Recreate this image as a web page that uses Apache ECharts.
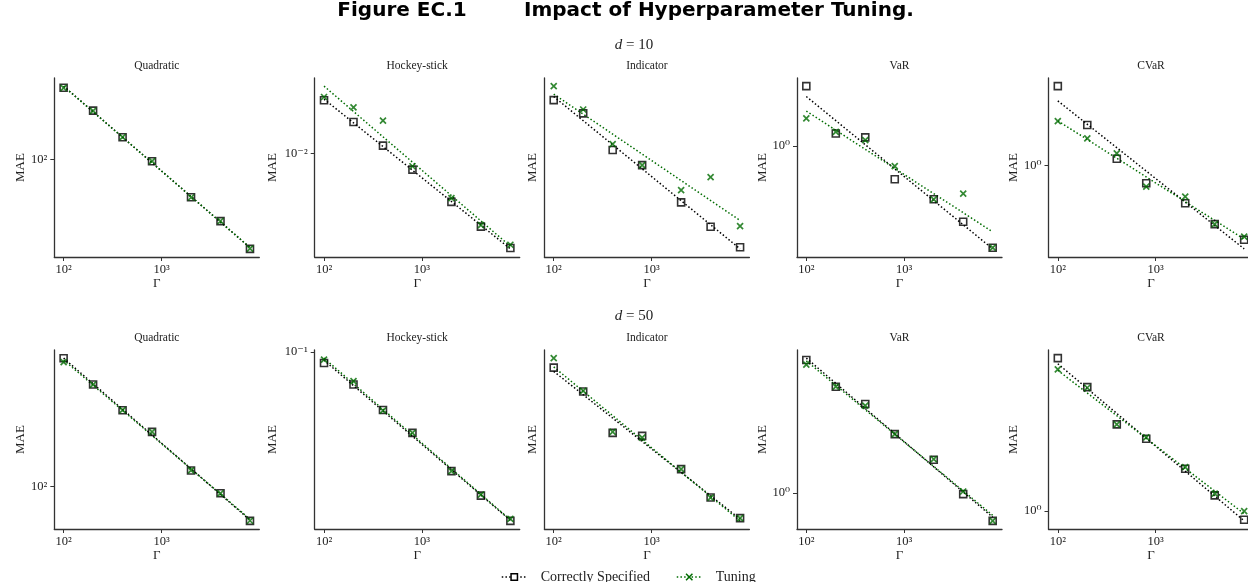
<!DOCTYPE html>
<html>
<head>
<meta charset="utf-8">
<title>Impact of Hyperparameter Tuning</title>
<script src="https://cdn.jsdelivr.net/npm/echarts@6/dist/echarts.min.js"></script>
<style>
  html, body { margin: 0; padding: 0; background: #fff; }
  #chart { width: 1248px; height: 582px; }
</style>
</head>
<body>
<div id="chart"></div>
<script>
// budget Gamma (x axis)
const gamma = [100, 200, 400, 800, 2000, 4000, 8000];
const panelNames = ['Quadratic', 'Hockey-stick', 'Indicator', 'VaR', 'CVaR'];
const dims = ['10', '50'];

// MAE, d = 10
const quad10Correct = [229.1, 175.6, 129.0, 97.7, 64.4, 48.8, 35.4];
const quad10Tuning = [228.4, 175.2, 129.3, 97.9, 64.2, 48.9, 35.5];
const hockey10Correct = [0.01848, 0.01437, 0.01092, 0.00827, 0.00569, 0.00427, 0.00333];
const hockey10Tuning = [0.01920, 0.01704, 0.01459, 0.00860, 0.00594, 0.00434, 0.00346];
const indic10Correct = [0.0652, 0.0559, 0.03655, 0.0307, 0.01994, 0.01502, 0.01184];
const indic10Tuning = [0.0767, 0.0585, 0.03916, 0.0307, 0.02298, 0.02672, 0.01515];
const var10Correct = [1.997, 1.154, 1.102, 0.678, 0.5375, 0.4147, 0.3068];
const var10Tuning = [1.373, 1.176, 1.068, 0.7904, 0.5375, 0.5736, 0.3068];
const cvar10Correct = [2.517, 1.602, 1.084, 0.8157, 0.647, 0.5074, 0.4230];
const cvar10Tuning = [1.678, 1.373, 1.154, 0.7843, 0.6985, 0.5074, 0.4394];

// MAE, d = 50
const quad50Correct = [441.9, 326, 242, 188.4, 120.4, 92.5, 67.2];
const quad50Tuning = [421.9, 325.5, 242.3, 188.1, 120.6, 92.4, 67.3];
const hockey50Correct = [0.08803, 0.06878, 0.05133, 0.03946, 0.0254, 0.01918, 0.01435];
const hockey50Tuning = [0.09157, 0.07145, 0.05091, 0.03946, 0.0254, 0.0194, 0.01469];
const indic50Correct = [0.0701, 0.0531, 0.0329, 0.0318, 0.02163, 0.01556, 0.01226];
const indic50Tuning = [0.0782, 0.0535, 0.0333, 0.03117, 0.02163, 0.01556, 0.01226];
const var50Correct = [4.667, 3.425, 2.804, 1.980, 1.471, 0.9885, 0.7256];
const var50Tuning = [4.419, 3.425, 2.749, 1.980, 1.483, 1.019, 0.7256];
const cvar50Correct = [5.884, 4.205, 2.730, 2.313, 1.634, 1.200, 0.9051];
const cvar50Tuning = [5.163, 4.175, 2.730, 2.349, 1.665, 1.223, 1.0];

const correctRows = [
  [quad10Correct, hockey10Correct, indic10Correct, var10Correct, cvar10Correct],
  [quad50Correct, hockey50Correct, indic50Correct, var50Correct, cvar50Correct],
];
const tuningRows = [
  [quad10Tuning, hockey10Tuning, indic10Tuning, var10Tuning, cvar10Tuning],
  [quad50Tuning, hockey50Tuning, indic50Tuning, var50Tuning, cvar50Tuning],
];

// layout / style
const SERIF = '"Liberation Serif", "DejaVu Serif", serif';
const SANS = '"DejaVu Sans", sans-serif';
const INK = '#222';
const AXIS = '#333';
const GREEN = '#006c00';
const colLeft = [54.3, 314.7, 544.4, 797, 1048.5];
const rowTop = [78, 350];
const PW = 205, PH = 179;
const maeGap = [27, 36, 5, 27, 26.5];
const X_MARK = 'path://M0,0L10,10M10,0L0,10';
const DOT = [1.5, 2.2];

const log10 = Math.log10;

// least squares fit in log-log space, drawn from first to last Gamma
function fitLine(ys) {
  const u = gamma.map(log10), v = ys.map(log10);
  const n = u.length;
  const mu = u.reduce((a, b) => a + b) / n, mv = v.reduce((a, b) => a + b) / n;
  let sxy = 0, sxx = 0;
  for (let i = 0; i < n; i++) {
    sxy += (u[i] - mu) * (v[i] - mv);
    sxx += (u[i] - mu) * (u[i] - mu);
  }
  const b = sxy / sxx, a = mv - b * mu;
  return [gamma[0], gamma[n - 1]].map(x => [x, Math.pow(10, a + b * log10(x))]);
}

// 5% margins in log space (matplotlib autoscale)
function padExtent(vals) {
  const l = vals.map(log10);
  const lo = Math.min(...l), hi = Math.max(...l), m = (hi - lo) * 0.05;
  return [Math.pow(10, lo - m), Math.pow(10, hi + m)];
}

const SUP = { '-': '⁻', '0': '⁰', '1': '¹', '2': '²', '3': '³', '4': '⁴', '5': '⁵' };
function powLabel(v) {
  const e = Math.round(log10(v));
  return '10' + String(e).split('').map(c => SUP[c]).join('');
}
const decades = [1e-4, 1e-3, 1e-2, 1e-1, 1, 10, 100, 1000, 10000];

const grids = [], xAxes = [], yAxes = [], series = [], graphics = [];
const xExt = padExtent(gamma);

graphics.push(
  { type: 'text', x: 402, y: 11, style: { text: 'Figure EC.1', fontFamily: SANS, fontWeight: 'bold', fontSize: 20, fill: '#000', align: 'center', verticalAlign: 'middle' } },
  { type: 'text', x: 524, y: 11, style: { text: 'Impact of Hyperparameter Tuning.', fontFamily: SANS, fontWeight: 'bold', fontSize: 20, fill: '#000', align: 'left', verticalAlign: 'middle' } }
);

for (let r = 0; r < 2; r++) {
  graphics.push({
    type: 'text', x: 634, y: r === 0 ? 45 : 316,
    style: {
      text: '{i|d} = ' + dims[r], fontFamily: SERIF, fontSize: 15, fill: INK,
      align: 'center', verticalAlign: 'middle',
      rich: { i: { fontStyle: 'italic', fontFamily: SERIF, fontSize: 15, fill: INK } },
    },
  });
  for (let c = 0; c < 5; c++) {
    const k = r * 5 + c;
    const correct = correctRows[r][c], tuning = tuningRows[r][c];
    const fitC = fitLine(correct), fitT = fitLine(tuning);
    const yExt = padExtent(correct.concat(tuning, fitC.map(p => p[1]), fitT.map(p => p[1])));

    grids.push({ left: colLeft[c], top: rowTop[r], width: PW, height: PH, outerBoundsMode: 'none' });
    graphics.push({
      type: 'text', x: colLeft[c] + PW / 2, y: rowTop[r] - 12,
      style: { text: panelNames[c], fontFamily: SERIF, fontSize: 11.5, fill: INK, align: 'center', verticalAlign: 'middle' },
    });

    const common = {
      type: 'log', logBase: 10, gridIndex: k,
      nameLocation: 'middle',
      nameTextStyle: { fontFamily: SERIF, fontSize: 13, color: INK },
      axisLine: { show: true, lineStyle: { color: AXIS, width: 1.3 } },
      splitLine: { show: false },
      minorTick: { show: false },
    };
    xAxes.push(Object.assign({}, common, {
      min: xExt[0], max: xExt[1],
      name: 'Γ', nameGap: 19,
      axisTick: { show: true, length: 4, customValues: [100, 1000], lineStyle: { color: AXIS, width: 1 } },
      axisLabel: { customValues: [100, 1000], formatter: powLabel, margin: 6, fontFamily: SERIF, fontSize: 12.5, color: INK },
    }));
    yAxes.push(Object.assign({}, common, {
      min: yExt[0], max: yExt[1],
      name: 'MAE', nameGap: maeGap[c],
      axisTick: { show: true, length: 4, customValues: decades, lineStyle: { color: AXIS, width: 1 } },
      axisLabel: { customValues: decades, formatter: powLabel, margin: 7, fontFamily: SERIF, fontSize: 12.5, color: INK },
    }));

    series.push(
      {
        name: 'Correctly Specified', type: 'line', xAxisIndex: k, yAxisIndex: k,
        data: fitC, symbol: 'rect', showSymbol: false, silent: true, z: 2,
        lineStyle: { color: '#000', width: 1.5, type: DOT },
        itemStyle: { color: '#fff', borderColor: '#000', borderWidth: 1.5 },
      },
      {
        name: 'Tuning', type: 'line', xAxisIndex: k, yAxisIndex: k,
        data: fitT, symbol: X_MARK, showSymbol: false, silent: true, z: 3,
        lineStyle: { color: GREEN, width: 1.5, type: DOT },
        itemStyle: { color: GREEN, borderColor: GREEN, borderWidth: 1.5 },
      },
      {
        name: 'Correctly Specified', type: 'scatter', xAxisIndex: k, yAxisIndex: k,
        data: gamma.map((g, i) => [g, correct[i]]), symbol: 'rect', symbolSize: 7, z: 4,
        itemStyle: { color: 'rgba(255,255,255,0)', borderColor: '#000', borderWidth: 1.6 },
      },
      {
        name: 'Tuning', type: 'scatter', xAxisIndex: k, yAxisIndex: k,
        data: gamma.map((g, i) => [g, tuning[i]]), symbol: X_MARK, symbolSize: 6, z: 5,
        itemStyle: { color: GREEN, borderColor: GREEN, borderWidth: 1.7 },
      }
    );
  }
}

const chart = echarts.init(document.getElementById('chart'), null, { renderer: 'canvas' });
chart.setOption({
  animation: false,
  backgroundColor: '#fff',
  grid: grids,
  xAxis: xAxes,
  yAxis: yAxes,
  legend: {
    left: 496, top: 565, itemWidth: 25, itemHeight: 8, itemGap: 26,
    textStyle: { fontFamily: SERIF, fontSize: 14, color: INK, padding: [0, 0, 0, 9] },
    data: [
      { name: 'Correctly Specified', itemStyle: { color: '#fff', borderColor: '#000', borderWidth: 1.5 }, lineStyle: { color: '#000', width: 1.5, type: DOT } },
      { name: 'Tuning', itemStyle: { color: GREEN, borderColor: GREEN, borderWidth: 1.5 }, lineStyle: { color: GREEN, width: 1.5, type: DOT } },
    ],
  },
  graphic: graphics,
  series: series,
});
window.addEventListener('resize', () => chart.resize());
</script>
</body>
</html>
